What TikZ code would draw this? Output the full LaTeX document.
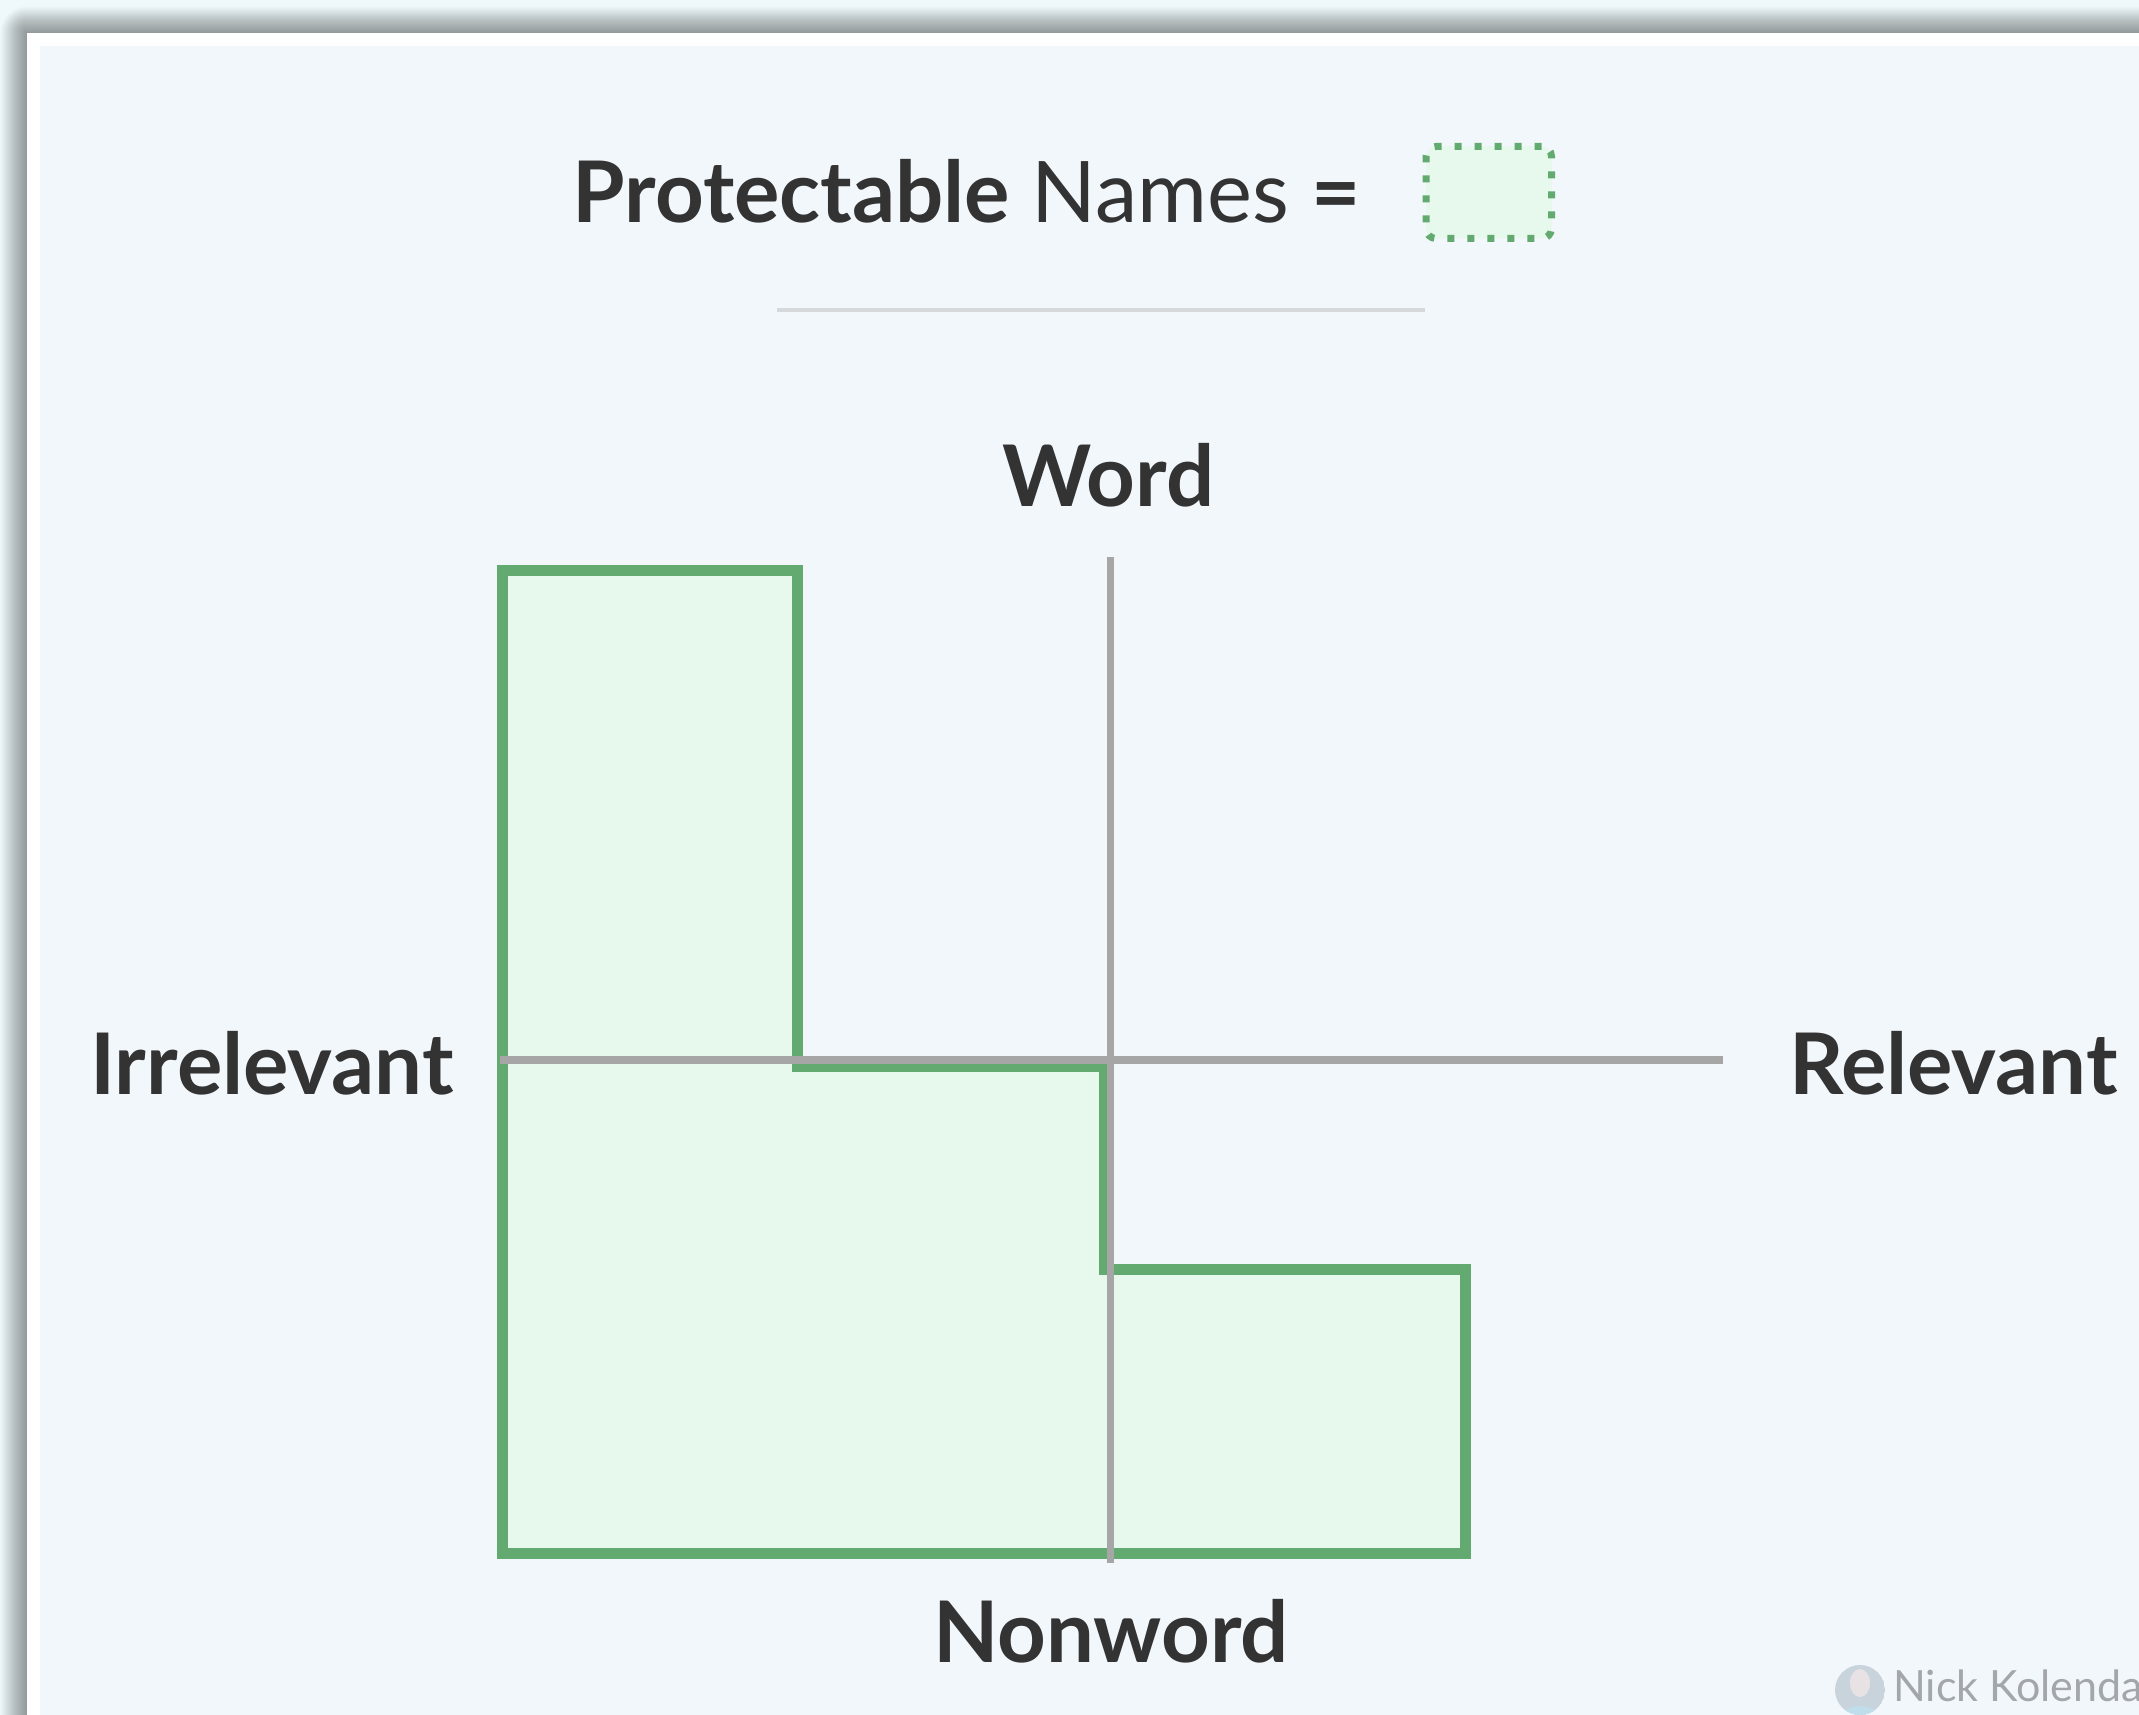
\documentclass[tikz,border=0pt]{standalone}
\usepackage{fontspec}
\setmainfont{Lato}
\definecolor{pagebg}{HTML}{EFF8FA}
\definecolor{panelbg}{HTML}{F2F7FB}
\definecolor{zonefill}{HTML}{E7F8EC}
\definecolor{zoneline}{HTML}{62AA70}
\definecolor{axisgrey}{HTML}{A6A6A6}
\definecolor{rulegrey}{HTML}{D6D9DC}
\definecolor{ink}{HTML}{333333}
\definecolor{creditgrey}{HTML}{A3A7AB}
\definecolor{avatarbg}{HTML}{C9D3DB}
\definecolor{avatarshirt}{HTML}{BFDDEA}
\definecolor{avatarface}{HTML}{E8E2E4}
\tikzset{
  axislabel/.style={anchor=base, inner sep=0pt, text=ink, font=\fontsize{85}{100}\selectfont\bfseries},
  axisline/.style={draw=axisgrey, line width=7.5pt, line cap=butt},
  zone/.style={fill=zonefill, draw=zoneline, line width=11pt, line join=miter},
}
\begin{document}
\begin{tikzpicture}[x=1pt,y=-1pt]
\useasboundingbox (0,0) rectangle (2139,1715);
\clip (0,0) rectangle (2139,1715);
% page background and card shadow
\fill[pagebg] (0,0) rectangle (2139,1715);
\foreach \i in {1,...,26}{
  \fill[black, opacity=0.016, rounded corners=\i pt] (26.7-\i,32.7-\i) rectangle (2300,1900);
}
% card with white border
\fill[white] (26.7,32.7) rectangle (2300,1900);
\fill[panelbg] (40,46) rectangle (2300,1900);

% legend
\node[anchor=base, inner sep=0pt, text=ink, font=\fontsize{85}{100}\selectfont] (title) at (966.5,222.7)
  {\textbf{Protectable} Names \textbf{=}};
\node[draw=zoneline, fill=zonefill, line width=7pt, dash pattern=on 7pt off 13pt,
      rounded corners=10pt, minimum width=125.5pt, minimum height=92pt, inner sep=0pt]
  (key) at (1488.75,192.5) {};
\coordinate (ruleL) at (777,310);
\coordinate (ruleR) at (1425,310);
\draw[rulegrey, line width=4pt] (ruleL) -- (ruleR);

% protectable region
\path[zone] (502,570.5) -- (797.5,570.5) -- (797.5,1066.5) -- (1104,1066.5)
  -- (1104,1269.5) -- (1465.5,1269.5) -- (1465.5,1553.5) -- (502,1553.5) -- cycle;

% axes
\coordinate (xl) at (500,1060);
\coordinate (xr) at (1723,1060);
\coordinate (yt) at (1110.5,557);
\coordinate (yb) at (1110.5,1563);
\draw[axisline] (xl) -- (xr);
\draw[axisline, line width=7pt] (yt) -- (yb);

% axis labels
\node[axislabel] (word) at (1108.5,506) {Word};
\node[axislabel] (nonword) at (1111,1662) {Nonword};
\node[axislabel] (irrelevant) at (272,1094) {Irrelevant};
\node[axislabel] (relevant) at (1953.5,1094) {Relevant};

% credit
\begin{scope}
  \clip (1860,1690) circle (25);
  \fill[avatarbg] (1860,1690) circle (25);
  \fill[avatarshirt] (1860,1722) ellipse (22 and 16);
  \fill[avatarface] (1860,1683) ellipse (10 and 14);
\end{scope}
\node[anchor=base west, inner sep=0pt, text=creditgrey, font=\fontsize{43}{50}\selectfont] (credit) at (1893,1701) {Nick Kolenda};
\end{tikzpicture}
\end{document}
